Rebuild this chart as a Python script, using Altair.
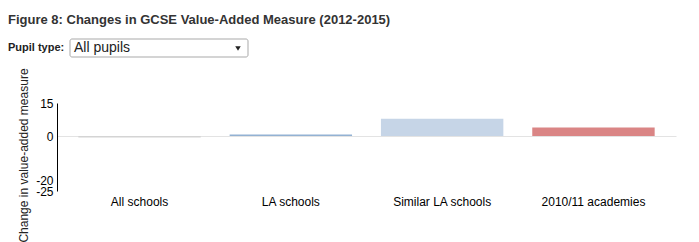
import altair as alt
import pandas as pd

# ---- data ----
categories = ["All schools", "LA schools", "Similar LA schools", "2010/11 academies"]
values = [-0.7, 0.7, 7.8, 3.9]
bar_colors = ["#d4d4d4", "#93b2d3", "#c6d5e7", "#da8585"]
y_ticks = [15, 0, -20, -25]
y_domain = [-25, 15]
title_text = "Figure 8: Changes in GCSE Value-Added Measure (2012-2015)"
y_title = "Change in value-added measure"
control_label = ["Pupil type:"]
control_options = ["All pupils"]

FONT = "Liberation Sans"

df = pd.DataFrame({"school": categories, "value": values})

x_enc = alt.X(
    "school:N",
    sort=categories,
    scale=alt.Scale(paddingInner=0.191, paddingOuter=0.141),
    axis=alt.Axis(title=None, domain=False, ticks=False, tickSize=0, labelPadding=5,
                  labelAngle=0, labelFontSize=12, labelColor="#000", labelFont=FONT),
)
y_enc = alt.Y(
    "value:Q",
    scale=alt.Scale(domain=y_domain, nice=False, zero=False),
    axis=alt.Axis(values=y_ticks, grid=True, gridColor="#e3e3e3",
                  gridOpacity={"condition": {"test": "datum.value === 0", "value": 1}, "value": 0},
                  ticks=False, tickSize=0, domainColor="#000",
                  labelOverlap=False, labelBound=False, labelFlush=False,
                  labelExpr="'' + datum.value",
                  labelPadding=4, labelFontSize=12, labelColor="#000", labelFont=FONT,
                  title=y_title, titleFontWeight="normal", titleFontSize=12,
                  titleFont=FONT, titleColor="#222", titleX=-27, titleY=52),
)

bars = alt.Chart(df).mark_bar().encode(
    x=x_enc,
    y=y_enc,
    color=alt.Color("school:N", scale=alt.Scale(domain=categories, range=bar_colors), legend=None),
)

ctrl = pd.DataFrame({"label": control_label})
opts = pd.DataFrame({"opt": control_options})

box = alt.Chart(ctrl).mark_rect(fill="white", stroke="#a9a9a9", strokeWidth=1, cornerRadius=2).encode(
    x=alt.value(13), x2=alt.value(191), y=alt.value(-64), y2=alt.value(-46)
)
label = alt.Chart(ctrl).mark_text(align="left", baseline="middle", font=FONT, fontSize=11,
                                  fontWeight="bold", color="#222").encode(
    x=alt.value(-49), y=alt.value(-55), text="label:N"
)
opt_text = alt.Chart(opts).mark_text(align="left", baseline="middle", font=FONT, fontSize=14,
                                     color="#222").encode(
    x=alt.value(17), y=alt.value(-55), text="opt:N"
)
arrow = alt.Chart(opts).mark_point(shape="triangle-down", filled=True, size=30, color="#222", opacity=1).encode(
    x=alt.value(181), y=alt.value(-54.5)
)

chart = alt.layer(bars, box, label, opt_text, arrow).properties(
    width=619,
    height=88,
    title=alt.TitleParams(title_text, anchor="start", frame="group", dx=-49, font=FONT,
                          fontSize=13, fontWeight="bold", color="#333", offset=12),
    autosize=alt.AutoSizeParams(type="none"),
    padding={"left": 57, "top": 103, "right": 23, "bottom": 52},
).configure_view(stroke=None)

chart.save("out.html", embed_options={"renderer": "svg", "actions": False})
